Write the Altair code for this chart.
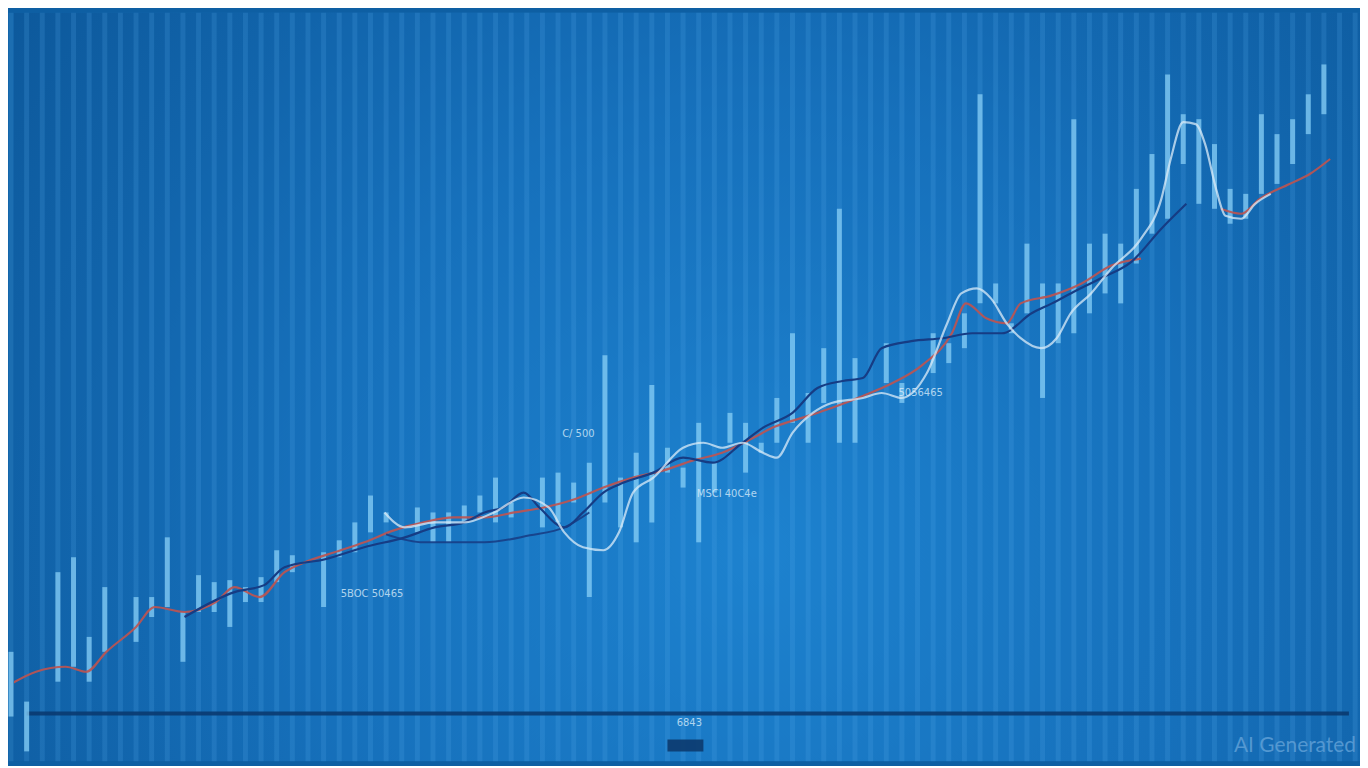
import altair as alt
import pandas as pd

# ---- data (index = session, value = price level) ----
bar_idx = [0, 1, 3, 4, 5, 6, 8, 9, 10, 11, 12, 13, 14, 15, 16, 17, 18, 20, 21, 22,
           23, 24, 26, 27, 28, 29, 30, 31, 32, 34, 35, 36, 37, 38, 39, 40, 41, 42,
           43, 44, 45, 46, 47, 48, 49, 50, 51, 52, 53, 54, 56, 57, 59, 60, 61, 62,
           63, 64, 65, 66, 67, 68, 69, 70, 71, 72, 73, 74, 75, 76, 77, 78, 79, 80,
           81, 82, 83, 84]
bar_high = [118, 68, 198, 213, 133, 183, 173, 173, 233, 158, 195, 188, 190, 183, 193,
            220, 215, 218, 230, 248, 275, 258, 263, 258, 258, 265, 275, 293, 268, 293,
            298, 288, 308, 416, 293, 318, 386, 323, 303, 348, 308, 358, 348, 328, 373,
            438, 378, 423, 563, 413, 428, 388, 438, 428, 458, 678, 488, 448, 528, 488,
            488, 653, 528, 538, 528, 583, 618, 698, 658, 653, 628, 583, 578, 658, 638,
            653, 678, 708]
bar_low = [53, 18, 88, 103, 88, 118, 128, 153, 163, 108, 158, 158, 143, 168, 168,
           188, 198, 163, 213, 218, 238, 248, 238, 228, 228, 248, 258, 248, 253, 243,
           248, 268, 173, 268, 243, 228, 248, 298, 283, 228, 278, 328, 298, 318, 328,
           348, 328, 368, 328, 328, 388, 368, 398, 408, 423, 468, 468, 438, 458, 373,
           428, 438, 458, 478, 468, 508, 538, 553, 608, 568, 563, 548, 553, 578, 588,
           608, 638, 658]

red_x = [-0.3, 1.6, 3.5, 4.8, 6.1, 8.0, 9.2, 11.1, 13.1, 14.3, 15.9, 17.5, 18.8, 20.7,
         22.6, 24.5, 26.4, 28.3, 30.3, 32.2, 34.1, 36.0, 37.9, 39.8, 41.7, 43.6, 45.5,
         47.5, 48.7, 50.6, 52.5, 54.5, 56.4, 58.3, 60.2, 61.1, 62.4, 63.7, 64.6, 66.6,
         68.5, 70.4, 72.3, 77.4, 78.7, 79.9, 81.8, 83.1, 84.4]
red_y = [83, 98, 103, 98, 118, 143, 163, 158, 168, 183, 173, 198, 208, 218, 228, 240,
         248, 253, 253, 258, 263, 271, 283, 293, 300, 310, 318, 333, 343, 353, 363, 375,
         388, 406, 438, 468, 453, 448, 468, 476, 488, 506, 513, 563, 558, 573, 588, 598,
         613]
red_seg = [0] * 43 + [1] * 6

navy_x = [11.1, 14.3, 16.2, 17.5, 20.1, 22.6, 25.2, 27.1, 29.0, 30.3, 31.5, 32.8, 33.8,
          35.4, 36.6, 37.9, 39.2, 41.1, 43.0, 44.9, 46.8, 48.1, 50.0, 51.6, 53.2, 54.5,
          55.7, 57.6, 59.6, 61.5, 63.4, 65.3, 66.6, 67.8, 69.7, 71.7, 73.6, 75.2]
navy_y = [153, 178, 185, 203, 211, 223, 233, 243, 248, 258, 263, 278, 263, 243, 258,
          278, 288, 298, 313, 308, 328, 343, 358, 383, 390, 393, 423, 430, 433, 438,
          438, 458, 468, 478, 493, 510, 543, 568]

navy2_x = [24.0, 26.4, 30.3, 33.2, 35.4, 37.0]
navy2_y = [236, 228, 228, 235, 243, 258]

white_x = [23.9, 25.2, 27.1, 29.0, 30.9, 32.8, 34.4, 35.4, 36.6, 37.9, 38.9, 39.8, 41.1,
           43.0, 44.3, 45.5, 46.8, 48.1, 49.0, 50.0, 51.3, 52.5, 54.5, 55.7, 57.0, 58.6,
           59.9, 60.8, 61.8, 62.7, 63.7, 64.6, 65.9, 66.9, 67.8, 69.1, 70.4, 72.3, 73.6,
           74.2, 75.0, 75.8, 76.4, 77.1, 77.7, 78.7, 79.6, 80.6]
white_y = [258, 243, 248, 248, 258, 273, 263, 238, 223, 220, 238, 278, 293, 323, 328,
           323, 328, 318, 313, 338, 358, 368, 373, 378, 373, 398, 448, 478, 483, 473,
           448, 433, 423, 433, 458, 478, 503, 533, 573, 613, 650, 648, 628, 583, 556,
           553, 568, 578]

label_text = ["C/ 500", "MSCI 40C4e", "5BOC 50465", "5056465"]
label_x = [36.3, 45.8, 23.1, 58.2]
label_y = [337, 277, 176, 378]

grid_idx = list(range(0, 87))
axis_level = 56
bottom_label = "6843"

W, H = 1352, 752
XDOM = [0.19, 86.31]
YDOM = [8, 760]

xs = alt.Scale(domain=XDOM, nice=False, zero=False)
ys = alt.Scale(domain=YDOM, nice=False, zero=False)

bars = pd.DataFrame({"i": bar_idx, "hi": bar_high, "lo": bar_low})
red = pd.DataFrame({"i": red_x, "v": red_y, "seg": red_seg})
navy = pd.DataFrame({"i": navy_x, "v": navy_y})
navy2 = pd.DataFrame({"i": navy2_x, "v": navy2_y})
white = pd.DataFrame({"i": white_x, "v": white_y})
labels = pd.DataFrame({"i": label_x, "v": label_y, "t": label_text})
grid = pd.DataFrame({"i": grid_idx})

X = lambda f="i": alt.X(f"{f}:Q", scale=xs, axis=None)
Y = lambda f="v": alt.Y(f"{f}:Q", scale=ys, axis=None)

bg = alt.Chart(pd.DataFrame({"a": [0]})).mark_rect(
    fill=alt.Gradient(
        gradient="radial",
        stops=[alt.GradientStop(color="#1d82cf", offset=0),
               alt.GradientStop(color="#1670bb", offset=0.45),
               alt.GradientStop(color="#0b5495", offset=1)],
        x1=0.55, y1=0.62, r1=0, x2=0.55, y2=0.62, r2=0.75,
    )
).encode(x=alt.value(0), x2=alt.value(W), y=alt.value(0), y2=alt.value(H))

gridl = alt.Chart(grid).mark_rule(
    color="#55aaec", strokeWidth=5, opacity=0.2
).encode(x=X())

axis_line = alt.Chart(pd.DataFrame({"a": [1.0], "b": [85.6], "v": [axis_level]})).mark_rule(
    color="#0a3a70", strokeWidth=4, opacity=0.9
).encode(x=alt.X("a:Q", scale=xs, axis=None), x2="b:Q", y=Y())

bar_marks = alt.Chart(bars).mark_rule(
    color="#86cdf5", strokeWidth=5, opacity=0.75, strokeCap="butt"
).encode(x=X(), y=Y("lo"), y2="hi:Q")

red_line = alt.Chart(red).mark_line(
    color="#c0534f", strokeWidth=2.2, interpolate="monotone", clip=True, opacity=0.9
).encode(x=X(), y=Y(), detail="seg:N")

navy_line = alt.Chart(navy).mark_line(
    color="#163c84", strokeWidth=2.2, interpolate="monotone", clip=True
).encode(x=X(), y=Y())

navy2_line = alt.Chart(navy2).mark_line(
    color="#173e86", strokeWidth=2, interpolate="monotone", clip=True, opacity=0.9
).encode(x=X(), y=Y())

white_line = alt.Chart(white).mark_line(
    color="#dcecf8", strokeWidth=2.2, interpolate="monotone", clip=True, opacity=0.75
).encode(x=X(), y=Y())

text_marks = alt.Chart(labels).mark_text(
    color="#d5eafa", fontSize=10, font="DejaVu Sans", opacity=0.8
).encode(x=X(), y=Y(), text="t:N")

bottom_txt = alt.Chart(pd.DataFrame({"i": [43.4], "v": [46], "t": [bottom_label]})).mark_text(
    color="#d5eafa", fontSize=10, font="DejaVu Sans", opacity=0.8
).encode(x=X(), y=Y(), text="t:N")

bottom_box = alt.Chart(pd.DataFrame({"a": [42.0], "b": [44.3], "lo": [18], "hi": [30]})).mark_rect(
    color="#0c3a6e", opacity=0.9
).encode(x=alt.X("a:Q", scale=xs, axis=None), x2="b:Q", y=Y("lo"), y2="hi:Q")

watermark = alt.Chart(pd.DataFrame({"t": ["AI Generated"]})).mark_text(
    color="#5e9fd6", fontSize=21, font="Lato", align="right", baseline="middle", opacity=0.85
).encode(x=alt.value(W - 4), y=alt.value(737), text="t:N")

chart = alt.layer(
    bg, gridl, axis_line, bar_marks, red_line, navy2_line, navy_line, white_line,
    text_marks, bottom_txt, bottom_box, watermark
).properties(
    width=W, height=H, padding=0, background="#0e5fa3"
).configure_view(stroke=None)

chart.save("out.html", embed_options={"renderer": "svg", "actions": False})
